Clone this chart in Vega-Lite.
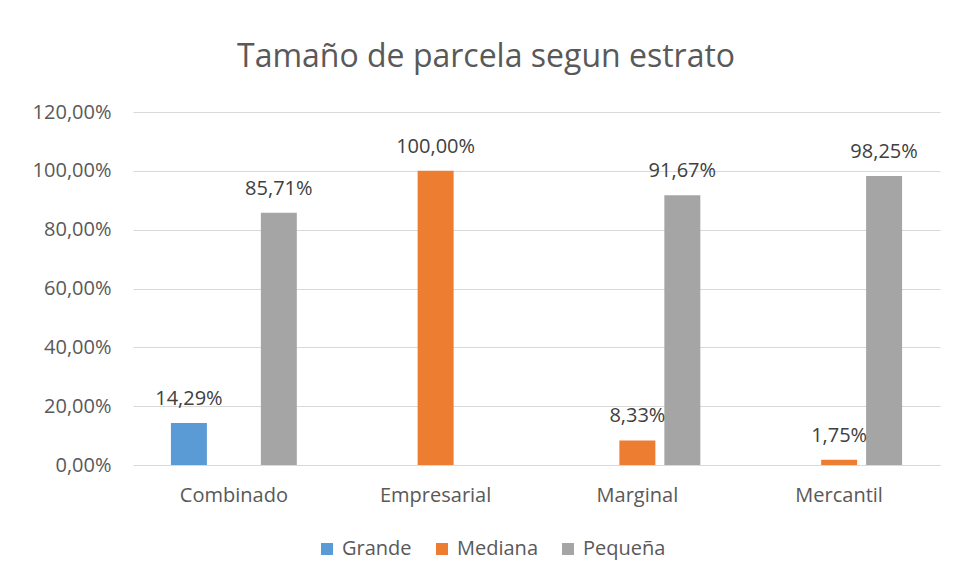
{
  "$schema": "https://vega.github.io/schema/vega-lite/v6.json",
  "width": 807,
  "height": 353,
  "autosize": "none",
  "padding": {"left": 133, "top": 112, "right": 15, "bottom": 117},
  "background": "white",
  "title": {
    "text": "Tamaño de parcela segun estrato",
    "anchor": "middle",
    "frame": "bounds",
    "fontSize": 32,
    "font": "Open Sans",
    "fontWeight": "normal",
    "color": "#595959",
    "offset": 28
  },
  "data": {
    "values": [
      {"estrato": "Combinado", "tamano": "Grande", "valor": 0.1429},
      {"estrato": "Combinado", "tamano": "Pequeña", "valor": 0.8571},
      {"estrato": "Empresarial", "tamano": "Mediana", "valor": 1.0},
      {"estrato": "Marginal", "tamano": "Mediana", "valor": 0.0833},
      {"estrato": "Marginal", "tamano": "Pequeña", "valor": 0.9167},
      {"estrato": "Mercantil", "tamano": "Mediana", "valor": 0.0175},
      {"estrato": "Mercantil", "tamano": "Pequeña", "valor": 0.9825}
    ]
  },
  "encoding": {
    "x": {
      "field": "estrato",
      "type": "nominal",
      "sort": ["Combinado", "Empresarial", "Marginal", "Mercantil"],
      "scale": {"paddingInner": 0.376, "paddingOuter": 0.188},
      "axis": {
        "title": null,
        "labelAngle": 0,
        "ticks": false,
        "domainColor": "#D9D9D9",
        "labelPadding": 20,
        "labelFontSize": 20,
        "labelFont": "Open Sans",
        "labelColor": "#595959"
      }
    },
    "xOffset": {
      "field": "tamano",
      "type": "nominal",
      "scale": {"domain": ["Grande", "Mediana", "Pequeña"], "paddingInner": 0.2, "paddingOuter": 0}
    },
    "y": {
      "field": "valor",
      "type": "quantitative",
      "scale": {"domain": [0, 1.2], "nice": false},
      "axis": {
        "title": null,
        "format": ".2%",
        "values": [0, 0.2, 0.4, 0.6, 0.8, 1.0, 1.2],
        "domain": false,
        "ticks": false,
        "gridColor": "#D9D9D9",
        "labelPadding": 22,
        "labelFontSize": 20,
        "labelFont": "Open Sans",
        "labelColor": "#595959"
      }
    }
  },
  "layer": [
    {
      "mark": {"type": "bar"},
      "encoding": {
        "color": {
          "field": "tamano",
          "type": "nominal",
          "scale": {"domain": ["Grande", "Mediana", "Pequeña"], "range": ["#5B9BD5", "#ED7D31", "#A5A5A5"]},
          "legend": {
            "title": null,
            "orient": "none",
            "direction": "horizontal",
            "legendX": 184,
            "legendY": 427,
            "symbolType": "square",
            "symbolSize": 144,
            "symbolStrokeWidth": 0,
            "labelFontSize": 20,
            "labelFont": "Open Sans",
            "labelColor": "#595959",
            "columnPadding": 20,
            "symbolOffset": 0,
            "labelOffset": 5
          }
        }
      }
    },
    {
      "mark": {"type": "text", "baseline": "alphabetic", "dy": -18, "fontSize": 20, "font": "Open Sans", "color": "#404040"},
      "encoding": {
        "text": {"field": "valor", "type": "quantitative", "format": ".2%"}
      }
    }
  ],
  "config": {
    "locale": {"number": {"decimal": ",", "thousands": ".", "grouping": [3], "currency": ["", " €"]}},
    "view": {"stroke": null},
    "axis": {"gridWidth": 1}
  }
}
